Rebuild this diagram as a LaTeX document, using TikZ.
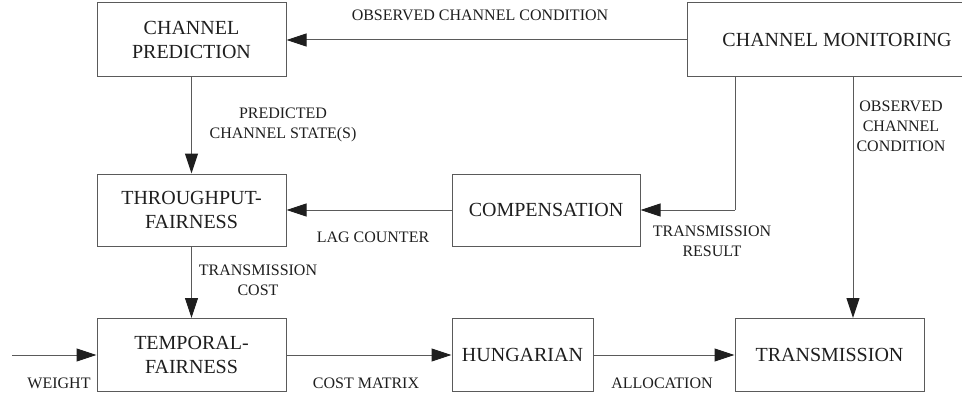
\documentclass[tikz,border=0pt]{standalone}
\usepackage{fontspec}
\setmainfont{DejaVu Serif}
\newfontfamily\timesf{Liberation Serif}[Scale=1.0]
\usetikzlibrary{arrows.meta}
\definecolor{linec}{HTML}{5A5A5A}
\definecolor{txtc}{HTML}{1E1E1E}
\tikzset{
  blk/.style={draw=linec, line width=1pt, inner sep=0pt, align=center,
    text=txtc, font=\timesf\fontsize{20}{24}\selectfont},
  lbl/.style={inner sep=0pt, align=center, text=txtc,
    font=\timesf\fontsize{16}{20}\selectfont},
  conn/.style={draw=linec, line width=1pt,
    -{Triangle[length=20pt,width=13pt,color=txtc]}},
  plain/.style={draw=linec, line width=1pt}
}
\begin{document}
\begin{tikzpicture}[x=1pt,y=-1pt]
\useasboundingbox (0,0) rectangle (962,396);
\node[blk, minimum width=189pt, minimum height=74pt] (pred) at (191.5,40) {CHANNEL\\PREDICTION};
\node[blk, minimum width=280pt, minimum height=74pt] (mon) at (827,40) {};
\node[text=txtc, font=\timesf\fontsize{20}{24}\selectfont, inner sep=0pt] (montxt) at (837,40) {CHANNEL MONITORING};
\node[blk, minimum width=189pt, minimum height=72pt] (tf) at (191.5,210) {THROUGHPUT-\\FAIRNESS};
\node[blk, minimum width=188pt, minimum height=72pt] (comp) at (546,210) {COMPENSATION};
\node[blk, minimum width=189pt, minimum height=73pt] (temp) at (191.5,355) {TEMPORAL-\\FAIRNESS};
\node[blk, minimum width=141pt, minimum height=73pt] (hun) at (522.5,355) {HUNGARIAN};
\node[blk, minimum width=189pt, minimum height=73pt] (trans) at (829.5,355) {TRANSMISSION};
\coordinate (w) at (12,355);
\coordinate (m1) at (735,77);
\coordinate (c1) at (735,210);
\coordinate (m2) at (853,77);

\draw[conn] (mon.west |- pred.east) -- (pred.east);
\draw[conn] (pred) -- (tf);
\draw[conn] (tf) -- (temp);
\draw[conn] (comp) -- (tf);
\draw[plain] (m1) -- (c1);
\draw[conn] (c1) -- (comp.east);
\draw[conn] (m2) -- (trans.north -| m2);
\draw[conn] (w) -- (temp.west);
\draw[conn] (temp) -- (hun);
\draw[conn] (hun) -- (trans);

\node[lbl] (l1) at (480,15) {OBSERVED CHANNEL CONDITION};
\node[lbl] (l2) at (283,125) {PREDICTED\\CHANNEL STATE(S)};
\node[lbl] (l3) at (901,126) {OBSERVED\\CHANNEL\\CONDITION};
\node[lbl] (l4) at (373,237) {LAG COUNTER};
\node[lbl] (l5) at (258,280) {TRANSMISSION\\COST};
\node[lbl] (l6) at (712,241) {TRANSMISSION\\RESULT};
\node[lbl] (l7) at (59,383) {WEIGHT};
\node[lbl] (l8) at (366,383) {COST MATRIX};
\node[lbl] (l9) at (662,383) {ALLOCATION};
\end{tikzpicture}
\end{document}
